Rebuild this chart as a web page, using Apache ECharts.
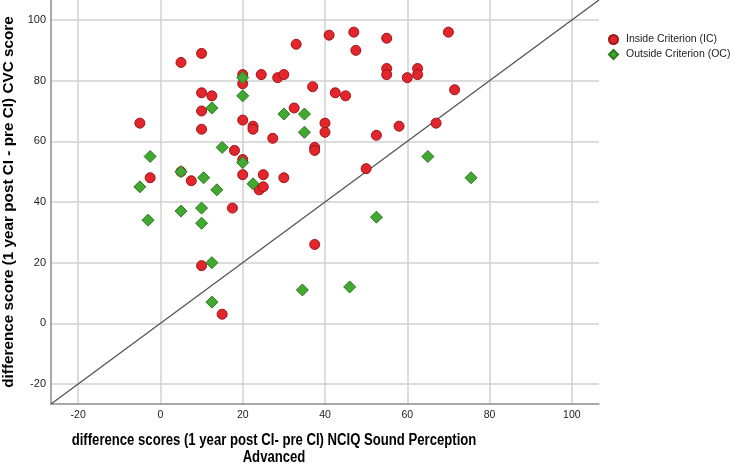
<!DOCTYPE html>
<html>
<head>
<meta charset="utf-8">
<script src="https://cdn.jsdelivr.net/npm/echarts@6/dist/echarts.min.js"></script>
<style>
html,body{margin:0;padding:0;background:#fff;}
#chart{width:750px;height:468px;}
</style>
</head>
<body>
<div id="chart"></div>
<script>
// Inside Criterion (IC)
const icX = [10, 5, 20, 20, 10, 12.5, 10, -5, 20, 10, 18, 20, -2.5, 5, 7.5, 20, 17.5, 10, 15,
  33, 41, 47, 47.5, 55, 55, 55, 62.5, 62.5, 60, 70, 71.5, 67, 24.5, 28.5, 30, 37, 42.5, 45,
  32.5, 22.5, 22.5, 27.3, 40, 40, 37.5, 37.5, 52.5, 58, 50, 25, 30, 24, 25, 37.5];
const icY = [89, 86, 82, 79, 76, 75, 70, 66, 67, 64, 57, 54, 48, 50, 47, 49, 38, 19, 3,
  92, 95, 96, 90, 94, 84, 82, 84, 82, 81, 96, 77, 66, 82, 81, 82, 78, 76, 75,
  71, 65, 64, 61, 66, 63, 58, 57, 62, 65, 51, 49, 48, 44, 45, 26];
// Outside Criterion (OC)
const ocX = [20, 20, 12.5, 15, -2.5, 20, 5, 10.5, -5, 13.7, 5, 10, -3, 10, 12.5, 12.5, 22.5,
  30, 35, 35, 65, 75.5, 52.5, 34.5, 46];
const ocY = [81, 75, 71, 58, 55, 53, 50, 48, 45, 44, 37, 38, 34, 33, 20, 7, 46,
  69, 69, 63, 55, 48, 35, 11, 12];
// axis extent and reference line (y = x)
const axisMin = -26.6;
const axisMax = 106.6;
const refLine = [axisMin, axisMax];

const seriesNames = ['Inside Criterion (IC)', 'Outside Criterion (OC)'];
const xTitle = 'difference scores (1 year post CI- pre CI) NCIQ Sound Perception\nAdvanced';
const yTitle = 'difference score (1 year post CI - pre CI) CVC score';

const zip = (a, b) => a.map((v, i) => [v, b[i]]);
const FONT = '"Liberation Sans", Arial, sans-serif';

const chart = echarts.init(document.getElementById('chart'), null, {renderer: 'canvas'});

const axisCommon = {
  type: 'value',
  min: axisMin,
  max: axisMax,
  splitNumber: 7,
  axisLine: {show: true, onZero: false, lineStyle: {color: '#8c8c8c', width: 1.5}},
  axisTick: {show: false},
  axisLabel: {showMinLabel: false, showMaxLabel: false, color: '#222', fontSize: 11, fontFamily: FONT},
  splitLine: {show: true, showMinLine: false, showMaxLine: false, lineStyle: {color: '#d0d0d0', width: 1.5}}
};

chart.setOption({
  animation: false,
  backgroundColor: '#fff',
  textStyle: {fontFamily: FONT},
  grid: {left: 51, top: 0, right: 151, bottom: 64, containLabel: false, outerBoundsMode: 'none'},
  xAxis: Object.assign({}, axisCommon, {
    axisLabel: Object.assign({}, axisCommon.axisLabel, {margin: 6, fontSize: 10.5})
  }),
  yAxis: Object.assign({}, axisCommon, {
    axisLabel: Object.assign({}, axisCommon.axisLabel, {margin: 5}),
    name: yTitle,
    nameLocation: 'middle',
    nameGap: 35,
    nameTextStyle: {fontSize: 15.3, fontWeight: 'bold', color: '#000', fontFamily: FONT}
  }),
  legend: {
    orient: 'vertical',
    left: 603,
    top: 29,
    itemWidth: 9,
    itemHeight: 9,
    itemGap: 4,
    textStyle: {fontSize: 10.5, color: '#222', fontFamily: FONT, padding: [0, 0, 0, 3]},
    data: seriesNames
  },
  graphic: [{
    type: 'text',
    x: 274,
    y: 432,
    scaleX: 0.82,
    style: {
      text: xTitle,
      textAlign: 'center',
      font: 'bold 16px ' + FONT,
      fill: '#000',
      lineHeight: 17
    }
  }],
  series: [
    {
      type: 'line',
      data: [[refLine[0], refLine[0]], [refLine[1], refLine[1]]],
      showSymbol: false,
      symbol: 'none',
      silent: true,
      lineStyle: {color: '#555', width: 1.3},
      z: 1
    },
    {
      name: seriesNames[0],
      type: 'scatter',
      symbol: 'circle',
      symbolSize: 10,
      data: zip(icX, icY),
      itemStyle: {color: '#e2262c', borderColor: '#9e1519', borderWidth: 1, opacity: 1},
      z: 2
    },
    {
      name: seriesNames[1],
      type: 'scatter',
      symbol: 'diamond',
      symbolSize: 12,
      data: zip(ocX, ocY),
      itemStyle: {color: '#42a832', borderColor: '#2b7a1f', borderWidth: 1, opacity: 1},
      z: 3
    }
  ]
});
</script>
</body>
</html>
